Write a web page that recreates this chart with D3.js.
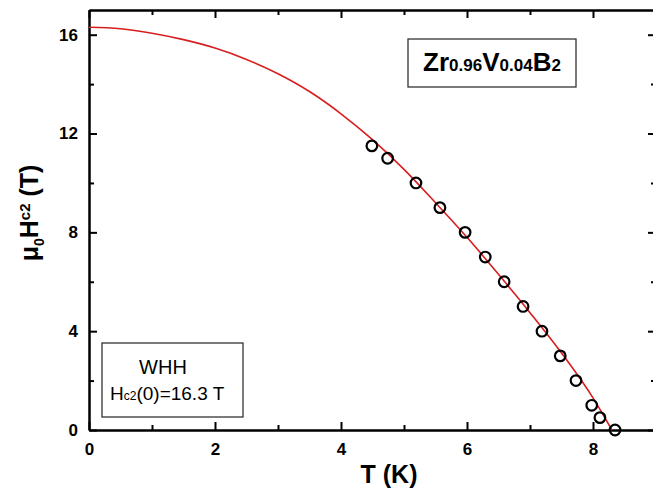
<!DOCTYPE html>
<html>
<head>
<meta charset="utf-8">
<script src="https://cdn.jsdelivr.net/npm/d3@7"></script>
<style>
	body { margin: 0; background: #fff; }
	svg { display: block; font-family: "Liberation Sans", Arial, sans-serif; }
</style>
</head>
<body>
<svg id="chart" width="653" height="491"></svg>
<script>
// Upper critical field of Zr0.96V0.04B2 with WHH fit.

// Measured points.
var tempK = [4.49, 4.74, 5.19, 5.57, 5.97, 6.29, 6.59, 6.89, 7.19, 7.48, 7.73, 7.98, 8.11, 8.35];
var hc2 = [11.5, 11.0, 10.0, 9.0, 8.0, 7.0, 6.0, 5.0, 4.0, 3.0, 2.0, 1.0, 0.5, 0.0];

// WHH curve.
var fitT = [0, 0.5, 1, 1.5, 2, 2.5, 3, 3.5, 4, 4.5, 5, 5.5, 6, 6.5, 7, 7.5, 8, 8.3];
var fitH = [16.3, 16.24, 16.06, 15.8, 15.46, 15.0, 14.42, 13.7, 12.8, 11.75, 10.55, 9.2, 7.8, 6.3, 4.75, 3.12, 1.3, 0];

var xMajor = [0, 2, 4, 6, 8];
var xMinor = [1, 3, 5, 7];
var yMajor = [0, 4, 8, 12, 16];
var yMinor = [2, 6, 10, 14];

var svg = d3.select('#chart');
var plotLeft = 89, plotRight = 656, plotTop = 10, plotBottom = 430;

var x = d3.scaleLinear().domain([0, 9]).range([plotLeft, plotRight]);
var y = d3.scaleLinear().domain([0, 17]).range([plotBottom, plotTop]);

// Axes: ticks point inward, minor ticks shorter.
function addAxis(axis, tx, ty) {
	var g = svg.append('g')
		.attr('transform', 'translate(' + tx + ',' + ty + ')')
		.call(axis);
	g.selectAll('path, line').attr('stroke', '#000').attr('stroke-width', 2);
	g.selectAll('text')
		.style('font-family', '"Liberation Sans", Arial, sans-serif')
		.style('font-size', '17px')
		.style('font-weight', 'bold')
		.attr('fill', '#000');
}
addAxis(d3.axisBottom(x).tickValues(xMajor).tickSizeInner(-8).tickSizeOuter(0).tickPadding(13), 0, plotBottom);
addAxis(d3.axisBottom(x).tickValues(xMinor).tickSizeInner(-5).tickSizeOuter(0).tickFormat(''), 0, plotBottom);
addAxis(d3.axisTop(x).tickValues(xMajor).tickSizeInner(-8).tickSizeOuter(0).tickFormat(''), 0, plotTop);
addAxis(d3.axisTop(x).tickValues(xMinor).tickSizeInner(-5).tickSizeOuter(0).tickFormat(''), 0, plotTop);
addAxis(d3.axisLeft(y).tickValues(yMajor).tickSizeInner(-8).tickSizeOuter(0).tickPadding(11), plotLeft, 0);
addAxis(d3.axisLeft(y).tickValues(yMinor).tickSizeInner(-5).tickSizeOuter(0).tickFormat(''), plotLeft, 0);
addAxis(d3.axisRight(y).tickValues(yMajor).tickSizeInner(-8).tickSizeOuter(0).tickFormat(''), plotRight, 0);
addAxis(d3.axisRight(y).tickValues(yMinor).tickSizeInner(-5).tickSizeOuter(0).tickFormat(''), plotRight, 0);

// Fit curve.
var line = d3.line()
	.x(function(d, i) { return x(fitT[i]); })
	.y(function(d) { return y(d); })
	.curve(d3.curveMonotoneX);
svg.append('path')
	.datum(fitH)
	.attr('d', line)
	.attr('fill', 'none')
	.attr('stroke', '#d81e1e')
	.attr('stroke-width', 1.6);

// Data points.
svg.selectAll('circle.pt')
	.data(hc2)
	.enter().append('circle')
	.attr('class', 'pt')
	.attr('cx', function(d, i) { return x(tempK[i]); })
	.attr('cy', function(d) { return y(d); })
	.attr('r', 5.3)
	.attr('fill', 'none')
	.attr('stroke', '#000')
	.attr('stroke-width', 2.2);

// Axis titles.
svg.append('text')
	.attr('x', 389).attr('y', 483)
	.attr('text-anchor', 'middle')
	.style('font-size', '25px').style('font-weight', 'bold')
	.text('T (K)');

var yTitle = svg.append('text')
	.attr('transform', 'translate(38,213) rotate(-90)')
	.attr('text-anchor', 'middle')
	.style('font-size', '25px').style('font-weight', 'bold');
yTitle.append('tspan').text('\u03bc');
yTitle.append('tspan').attr('dy', 6).style('font-size', '14px').text('0');
yTitle.append('tspan').attr('dy', -6).text('H');
yTitle.append('tspan').attr('dy', -8).style('font-size', '15px').text('c2');
yTitle.append('tspan').attr('dy', 8).text(' (T)');

// Compound label box.
svg.append('rect')
	.attr('x', 408).attr('y', 39).attr('width', 168).attr('height', 48)
	.attr('fill', '#fff').attr('stroke', '#333').attr('stroke-width', 1.3);
var comp = svg.append('text')
	.attr('x', 492).attr('y', 71)
	.attr('text-anchor', 'middle')
	.style('font-size', '26px').style('font-weight', 'bold');
[['Zr', 26], ['0.96', 17], ['V', 26], ['0.04', 17], ['B', 26], ['2', 17]].forEach(function(p) {
	comp.append('tspan').style('font-size', p[1] + 'px').text(p[0]);
});

// WHH box.
svg.append('rect')
	.attr('x', 102).attr('y', 343).attr('width', 141).attr('height', 74)
	.attr('fill', '#fff').attr('stroke', '#333').attr('stroke-width', 1.3);
svg.append('text')
	.attr('x', 163).attr('y', 374)
	.attr('text-anchor', 'middle')
	.style('font-size', '20px')
	.text('WHH');
var whh = svg.append('text')
	.attr('x', 110).attr('y', 400)
	.style('font-size', '19px');
whh.append('tspan').text('H');
whh.append('tspan').style('font-size', '12px').text('c2');
whh.append('tspan').text('(0)=16.3 T');
</script>
</body>
</html>
